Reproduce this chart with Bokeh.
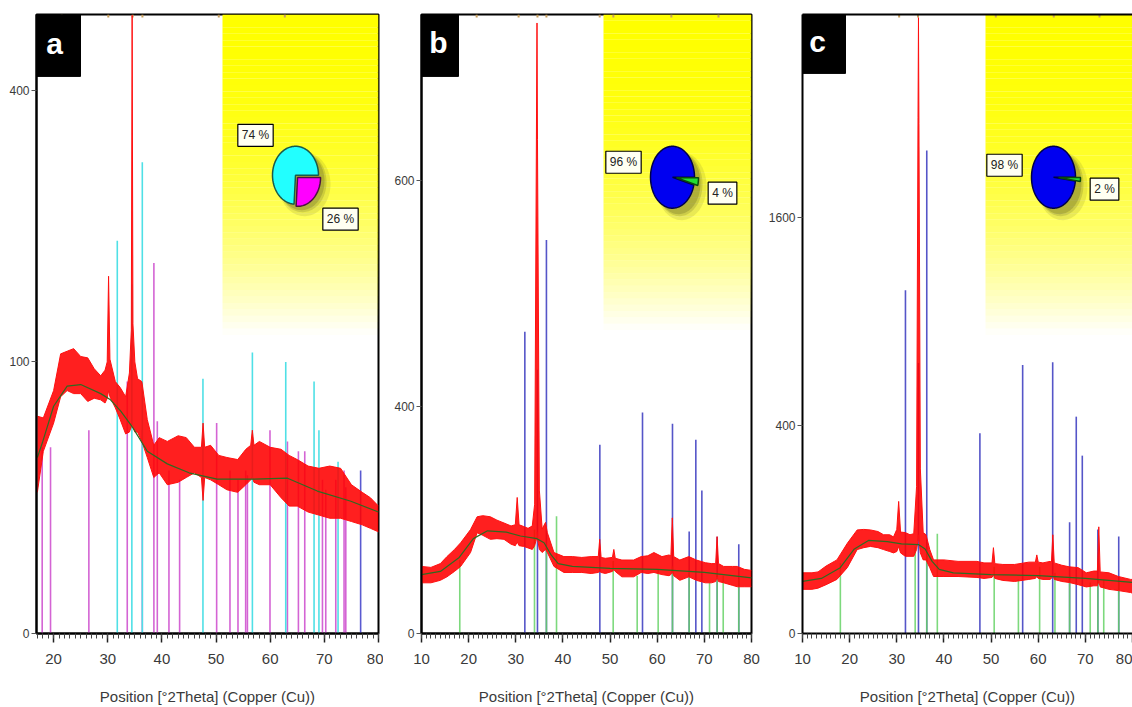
import numpy as np
from bokeh.plotting import figure
from bokeh.layouts import row
from bokeh.models import Range1d, FixedTicker, SingleIntervalTicker, LinearAxis, Label
from bokeh.embed import file_html
from bokeh.resources import INLINE

X_TITLE = "Position [°2Theta] (Copper (Cu))"
FONT = "Liberation Sans"

# ---------------- panel a ----------------
a_tt = [17.0, 18.1, 20.0, 21.3, 22.5, 23.7, 25.0, 26.3, 27.5, 28.7, 29.5, 29.9, 30.15, 30.4,
        31.4, 32.3, 33.3, 34.0, 34.35, 34.5, 34.65, 35.0, 35.5, 36.3, 37.3, 38.5, 39.5, 41.0,
        43.0, 44.5, 46.0, 47.3, 47.6, 47.9, 49.0, 50.5, 52.0, 54.0, 55.5, 56.4, 56.7, 57.0, 58.0,
        60.0, 62.0, 63.5, 65.0, 67.0, 69.0, 71.0, 73.0, 75.0, 77.0, 78.5, 80.0]
a_lo = [27, 45, 60, 76, 80, 78, 78, 73, 75, 74, 72, 75, 80, 76,
        69, 62, 54, 55, 58, 60, 58, 55, 55, 50, 42, 33, 35, 30,
        31, 33, 35, 33, 24, 33, 32, 30, 28, 27, 30, 32, 33, 31, 30,
        30, 25, 22, 22, 20, 19, 18, 18, 17, 16, 15, 14]
a_hi = [64, 63, 80, 106, 108, 110, 104, 103, 95, 90, 94, 100, 173, 102,
        86, 82, 76, 92, 125, 518, 130, 100, 88, 86, 62, 48, 52, 50,
        53, 52, 47, 47, 60, 47, 48, 43, 42, 41, 46, 48, 56, 48, 50,
        47, 46, 43, 41, 38, 37, 38, 37, 30, 27, 25, 22]
a_bg_tt = [17, 18, 20, 22.5, 25, 28.7, 30.5, 32.4, 34.5, 37.3, 41, 45, 50.2, 57, 63.2, 68.7, 74.9, 80]
a_bg = [42, 50, 70, 83, 84, 78, 74, 67, 58, 45, 39, 35, 32.3, 32.3, 32.7, 27.5, 23.7, 20]
a_cyan_pos = [31.76, 34.45, 36.38, 47.58, 56.71, 62.87, 68.1, 69.0, 72.53]
a_cyan_h = [209, 165, 301, 88, 107, 100, 86, 56, 40]
a_mag_pos = [17.89, 19.43, 26.51, 33.6, 36.38, 38.52, 39.15, 41.30, 43.27, 50.11, 52.57, 54.05,
             55.47, 55.79, 59.96, 63.18, 65.21, 66.38, 69.65, 70.26, 72.11, 73.64, 73.96]
a_mag_h = [47, 47, 56, 86, 56, 186, 61, 36, 32, 60, 36, 32, 36, 34, 56, 50, 45, 45, 32, 28, 32, 36, 29]
a_blue_pos = [76.7]
a_blue_h = [36]
a_marks = [21.5, 30.1, 34.6, 36.4, 50.5, 62.7]
a_pie = [74, 26]
a_yticks = [0, 100, 400]
a_ylabels = ["0", "100", "400"]

# ---------------- panel b ----------------
b_tt = [10.0, 12.0, 14.0, 15.4, 17.0, 18.3, 20.4, 21.8, 23.0, 24.6, 26.0, 27.5, 29.0, 29.9, 30.3,
        30.7, 31.7, 32.6, 33.5, 34.0, 34.4, 34.5, 34.6, 35.0, 35.6, 36.3, 36.7, 38.1, 40.2, 42.0,
        44.0, 46.0, 47.5, 47.8, 48.1, 49.0, 50.5, 50.8, 51.1, 52.5, 55.0, 56.6, 58.0, 59.3, 61.0,
        62.5, 62.9, 63.2, 63.5, 64.8, 66.7, 68.3, 70.2, 71.5, 72.4, 72.7, 73.0, 74.1, 76.0, 77.0,
        78.5, 80.0]
b_lo = [20, 20, 22, 25, 30, 35, 51, 79, 75, 69, 70, 69, 62, 60, 65,
        60, 59, 57, 55, 60, 70, 80, 70, 55, 51, 55, 51, 35, 29, 29,
        29, 28, 29, 30, 29, 28, 30, 32, 30, 25, 25, 29, 28, 29, 27,
        26, 27, 30, 26, 22, 25, 22, 20, 20, 21, 25, 21, 20, 18, 17,
        17, 17]
b_hi = [35, 34, 38, 46, 55, 64, 84, 106, 108, 106, 100, 95, 90, 92, 144,
        92, 89, 86, 90, 130, 2100, 2900, 1900, 160, 85, 96, 79, 51, 46, 46,
        45, 46, 46, 69, 45, 44, 45, 55, 44, 42, 42, 46, 47, 51, 46,
        48, 47, 104, 46, 42, 46, 42, 39, 38, 38, 73, 38, 35, 35, 35,
        32, 31]
b_bg_tt = [10, 14, 18, 21, 24, 28, 31, 34.5, 36, 37.5, 39, 42, 50, 60, 70, 80]
b_bg = [27, 30, 45, 70, 82, 80, 74, 70, 64, 48, 38, 35, 33, 32, 29, 24]
b_blue_pos = [31.92, 34.6, 36.5, 47.83, 56.88, 63.24, 66.78, 68.19, 69.47, 72.72, 77.3]
b_blue_h = [709, 541, 1205, 277, 380, 342, 81, 292, 159, 73, 62]
b_green_pos = [18.12, 33.97, 36.5, 38.64, 50.66, 55.75, 60.2, 63.24, 66.78, 71.1, 72.72, 74.0, 77.3]
b_green_h = [42, 84, 57, 107, 41, 26, 32, 35, 30, 20, 28, 26, 23]
b_marks = [21.7, 30.6, 34.6, 36.5, 47.8, 50.7, 63.0, 73.0]
b_pie = [96, 4]
b_yticks = [0, 400, 1600]
b_ylabels = ["0", "400", "600"]

# ---------------- panel c ----------------
c_tt = [10.0, 12.0, 13.3, 15.0, 17.3, 19.5, 21.6, 23.0, 24.4, 26.0, 27.2, 28.5, 29.3, 30.0, 30.4,
        30.8, 31.8, 32.8, 33.6, 34.2, 34.5, 34.6, 34.7, 35.0, 35.6, 36.2, 37.0, 37.8, 40.0, 43.0,
        47.0, 48.5, 50.2, 50.5, 50.8, 52.5, 55.0, 58.0, 59.4, 59.7, 60.0, 61.0, 62.5, 62.8, 63.1,
        63.4, 65.0, 66.6, 68.5, 70.2, 71.8, 72.55, 72.85, 73.15, 75.0, 77.0, 79.6, 80.0]
c_lo = [18, 18, 19, 22, 27, 40, 65, 68, 70, 68, 65, 62, 60, 62, 70,
        60, 55, 55, 55, 65, 80, 90, 80, 60, 50, 50, 40, 30, 30, 30,
        29, 28, 29, 32, 28, 26, 25, 27, 28, 30, 28, 27, 27, 28, 32,
        27, 25, 24, 22, 20, 21, 21, 25, 20, 18, 17, 15.5, 15]
c_hi = [34, 34, 35, 42, 50, 75, 99, 100, 99, 96, 90, 90, 86, 100, 161,
        95, 94, 90, 92, 200, 2460, 3500, 2400, 250, 94, 90, 65, 50, 50, 48,
        48, 46, 46, 68, 45, 44, 44, 47, 47, 57, 47, 46, 48, 47, 90,
        46, 43, 41, 40, 34, 36, 36, 105, 35, 34, 30, 27, 27]
c_bg_tt = [10, 14, 18, 21, 24, 28, 31, 34.6, 36, 37.5, 39, 42, 50, 60, 70, 80]
c_bg = [25, 28, 40, 66, 80, 78, 74, 73, 66, 48, 38, 34, 32, 31, 28, 24]
c_blue_pos = [31.84, 34.6, 36.36, 47.63, 56.7, 63.07, 66.66, 68.07, 69.35, 72.65, 77.08]
c_blue_h = [1088, 675, 2153, 370, 665, 679, 114, 434, 292, 100, 87]
c_green_pos = [18.03, 33.9, 36.36, 38.6, 50.66, 55.8, 60.3, 63.55, 66.66, 71.03, 72.65, 73.9, 77.08]
c_green_h = [46, 70, 60, 92, 41, 27, 41, 34, 30, 24, 26, 27, 24]
c_marks = [30.5, 34.5, 51.0, 63.3, 73.0]
c_pie = [98, 2]
c_yticks = [0, 400, 1600]
c_ylabels = ["0", "400", "1600"]

TOP, BOTTOM = 14, 634


def panel(fig_x, width, bl, br, xr, ymax, yticks, ylabels, outline=True):
    x0, x1 = xr
    p = figure(width=width, height=707, x_range=Range1d(x0, x1), y_range=Range1d(0, ymax),
               output_backend="svg", toolbar_location=None,
               min_border_left=bl, min_border_right=br, min_border_top=TOP,
               min_border_bottom=707 - BOTTOM)
    p.grid.visible = False
    p.background_fill_color = "white"
    p.border_fill_color = "white"
    p.outline_line_color = "black" if outline else None
    p.outline_line_width = 2

    xa = p.xaxis[0]
    xa.ticker = SingleIntervalTicker(interval=10, num_minor_ticks=10)
    xa.axis_label = X_TITLE
    xa.axis_label_text_font = FONT
    xa.axis_label_text_font_size = "15px"
    xa.axis_label_text_font_style = "normal"
    xa.axis_label_text_color = "#3a3a3a"
    xa.axis_label_standoff = 21
    xa.major_label_text_font = FONT
    xa.major_label_text_font_size = "15px"
    xa.major_label_text_color = "#3a3a3a"
    xa.major_label_standoff = 11
    xa.axis_line_color = "black"
    xa.axis_line_width = 2
    xa.major_tick_out = 9
    xa.major_tick_in = 0
    xa.minor_tick_out = 5
    xa.minor_tick_in = 0
    xa.major_tick_line_color = "#222222"
    xa.minor_tick_line_color = "#444444"
    xa.major_tick_line_width = 1.5

    ya = p.yaxis[0]
    sticks_ = [float(np.sqrt(v)) for v in yticks]
    ya.ticker = FixedTicker(ticks=sticks_, minor_ticks=[])
    ya.major_label_overrides = {s: l for s, l in zip(sticks_, ylabels)}
    ya.major_label_text_font = FONT
    ya.major_label_text_font_size = "12px"
    ya.major_label_text_color = "#3a3a3a"
    ya.major_label_standoff = 2
    ya.axis_line_color = "black"
    ya.axis_line_width = 2
    ya.major_tick_out = 5
    ya.major_tick_in = 0
    ya.major_tick_line_color = "#555555"

    if not outline:
        top = LinearAxis(ticker=FixedTicker(ticks=[], minor_ticks=[]),
                         axis_line_color="black", axis_line_width=2)
        p.add_layout(top, "above")

    frame_left = fig_x + bl
    frame_w = width - bl - br

    def X(px):
        return x0 + (np.asarray(px, dtype=float) - frame_left) / frame_w * (x1 - x0)

    def Y(py):
        return (BOTTOM - np.asarray(py, dtype=float)) / (BOTTOM - TOP) * ymax

    return p, X, Y


def top_marks(p, Y, marks):
    p.segment(x0=marks, y0=float(Y(TOP)), x1=marks, y1=float(Y(TOP + 3)),
              line_color="#c8a060", line_width=2)


def yellow(p, X, Y, px_left, px_bottom, x_end, n=50):
    edges = np.linspace(TOP, px_bottom, n + 1)
    t = (np.arange(n) + 0.5) / n
    p.quad(left=float(X(px_left)), right=x_end, top=Y(edges[:-1]), bottom=Y(edges[1:]),
           fill_color="#ffff00", fill_alpha=1 - t ** 2.2, line_color=None)


def sticks(p, pos, h, color, alpha=1.0, width=1.6):
    p.segment(x0=pos, y0=0, x1=pos, y1=np.sqrt(h), line_color=color, line_width=width,
              line_alpha=alpha)


def trace(p, tt, lo, hi, bg_tt, bg):
    p.varea(x=tt, y1=np.sqrt(lo), y2=np.sqrt(hi), fill_color="#ff0000", fill_alpha=0.88)
    p.line(tt, np.sqrt(hi), line_color="#ff1010", line_width=1)
    p.line(tt, np.sqrt(lo), line_color="#ff1010", line_width=1)
    p.line(bg_tt, np.sqrt(bg), line_color="#2f6a20", line_width=1.2)


def pie(p, X, Y, cx, cy, rx, ry, fracs, colors, outlines, explode):
    t = np.linspace(0, 2 * np.pi, 120)
    for off, grow, al in [(9, 3, 0.15), (7, 1, 0.22), (6, 0, 0.3)]:
        p.patch(X(cx + off + (rx + grow) * np.cos(t)), Y(cy + off - (ry + grow) * np.sin(t)),
                fill_color="#6b6b28", fill_alpha=al, line_color=None)
    minor = fracs[1] / 100.0 * 2 * np.pi
    tm = np.linspace(-minor, -2 * np.pi, 150)
    pxs = np.concatenate([[cx], cx + rx * np.cos(tm)])
    pys = np.concatenate([[cy], cy - ry * np.sin(tm)])
    p.patch(X(pxs), Y(pys), fill_color=colors[0], line_color=outlines[0], line_width=1.5)
    ts = np.linspace(0, -minor, 40)
    bis = -minor / 2
    ex, ey = explode * np.cos(bis), -explode * np.sin(bis)
    pxs = np.concatenate([[cx + ex], cx + ex + rx * np.cos(ts)])
    pys = np.concatenate([[cy + ey], cy + ey - ry * np.sin(ts)])
    p.patch(X(pxs), Y(pys), fill_color=colors[1], line_color=outlines[1], line_width=1.5)


def tag(p, X, Y, px, py, text):
    common = dict(x=float(X(px)), y=float(Y(py)), text=text, text_font=FONT,
                  text_font_size="12px", text_align="center", text_baseline="middle", padding=4)
    p.add_layout(Label(x_offset=3, y_offset=-3, text_alpha=0, background_fill_color="#3a3a2a",
                       background_fill_alpha=0.7, **common))
    p.add_layout(Label(text_color="#222222", background_fill_color="#fffff2",
                       border_line_color="black", border_line_width=1.2, **common))


def letter(p, X, Y, box, center, text):
    l, t, r, b = box
    p.quad(left=float(X(l)), right=float(X(r)), top=float(Y(t)), bottom=float(Y(b)),
           fill_color="black", line_color="black")
    p.add_layout(Label(x=float(X(center[0])), y=float(Y(center[1])), text=text,
                       text_color="white", text_font=FONT, text_font_style="bold",
                       text_font_size="30px", text_align="center", text_baseline="middle"))


# ----- build panel a
pa, Xa, Ya = panel(0, 383, 36, 5, (16.84, 80), 22.79, a_yticks, a_ylabels)
yellow(pa, Xa, Ya, 222, 335, 80)
top_marks(pa, Ya, a_marks)
sticks(pa, a_mag_pos, a_mag_h, "#d464d4")
sticks(pa, a_cyan_pos, a_cyan_h, "#4fe0e6")
sticks(pa, a_blue_pos, a_blue_h, "#5a5ad0")
trace(pa, a_tt, a_lo, a_hi, a_bg_tt, a_bg)
pie(pa, Xa, Ya, 295, 175, 23, 29, a_pie, ["#22ffff", "#ff00ff"], ["#1a5a4a", "#4a1040"], 3)
tag(pa, Xa, Ya, 255, 135, "%d %%" % a_pie[0])
tag(pa, Xa, Ya, 340, 219, "%d %%" % a_pie[1])
letter(pa, Xa, Ya, (36, 14, 80, 76), (54, 43), "a")

# ----- build panel b
pb, Xb, Yb = panel(383, 381, 38, 13, (10, 80), 54.6, b_yticks, b_ylabels)
yellow(pb, Xb, Yb, 603, 330, 80)
top_marks(pb, Yb, b_marks)
sticks(pb, b_blue_pos, b_blue_h, "#5555c8")
sticks(pb, b_green_pos, b_green_h, "#66d266", alpha=0.85)
trace(pb, b_tt, b_lo, b_hi, b_bg_tt, b_bg)
pie(pb, Xb, Yb, 672, 177, 22, 31, b_pie, ["#0000f0", "#22dd33"], ["#00004a", "#0a4a0a"], 4)
tag(pb, Xb, Yb, 623, 162, "%d %%" % b_pie[0])
tag(pb, Xb, Yb, 722, 193, "%d %%" % b_pie[1])
letter(pb, Xb, Yb, (421, 14, 458, 76), (438, 42), "b")

# ----- build panel c
pc, Xc, Yc = panel(764, 368, 38, 0, (10, 80), 59.47, c_yticks, c_ylabels, outline=False)
yellow(pc, Xc, Yc, 985, 335, 80)
top_marks(pc, Yc, c_marks)
sticks(pc, c_blue_pos, c_blue_h, "#5555c8")
sticks(pc, c_green_pos, c_green_h, "#66d266", alpha=0.85)
trace(pc, c_tt, c_lo, c_hi, c_bg_tt, c_bg)
pie(pc, Xc, Yc, 1053, 177, 22, 31, c_pie, ["#0000f0", "#22dd33"], ["#00004a", "#0a4a0a"], 5)
tag(pc, Xc, Yc, 1004, 165, "%d %%" % c_pie[0])
tag(pc, Xc, Yc, 1104, 189, "%d %%" % c_pie[1])
letter(pc, Xc, Yc, (802, 13, 845, 73), (817, 41), "c")

layout = row(pa, pb, pc, spacing=0)
open("out.html", "w").write(file_html(layout, INLINE))
